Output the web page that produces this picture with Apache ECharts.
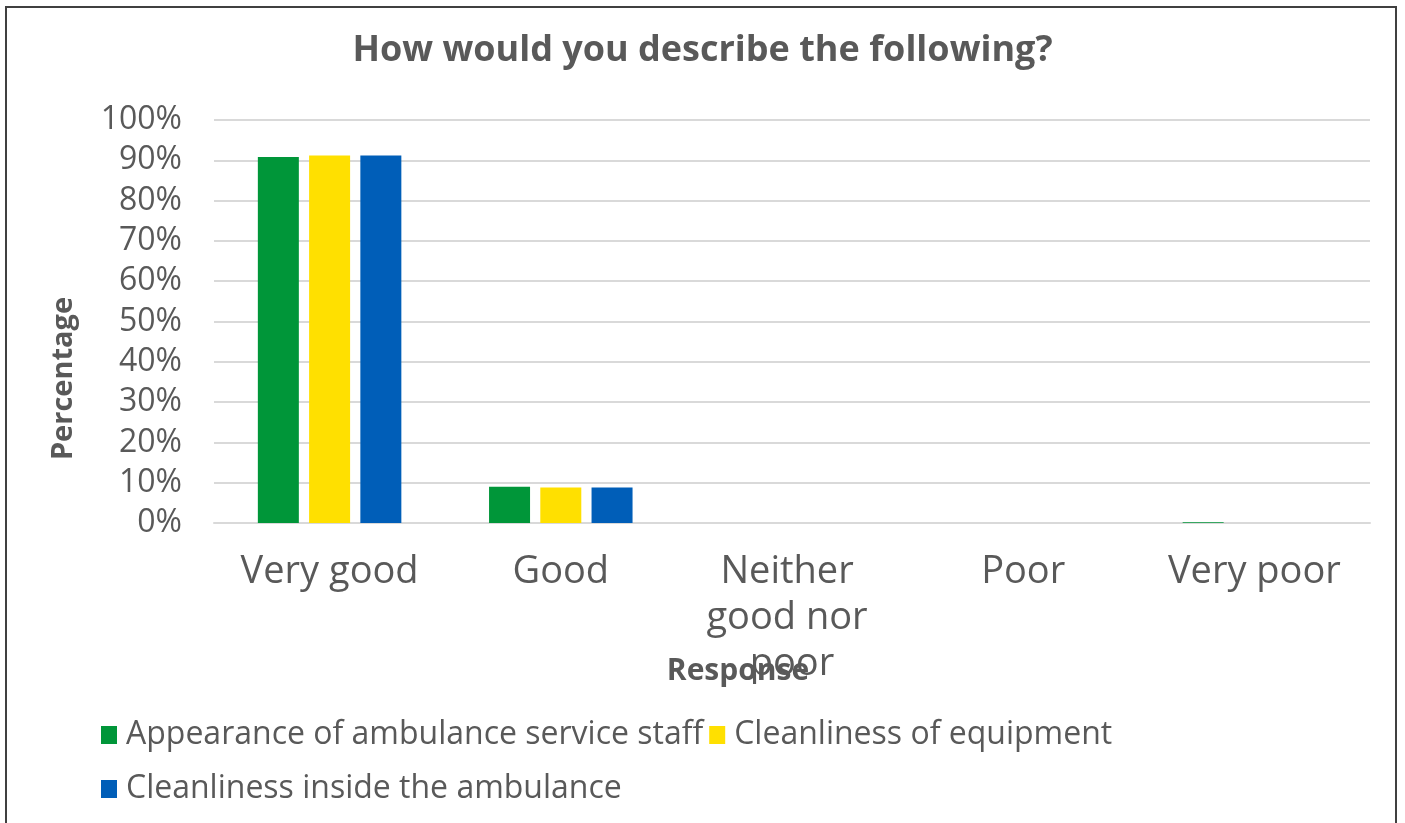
<!DOCTYPE html>
<html>
<head>
<meta charset="utf-8">
<script src="https://cdn.jsdelivr.net/npm/echarts@6/dist/echarts.min.js"></script>
<style>
html,body{margin:0;padding:0;background:#fff;}
#frame{position:absolute;left:5px;top:6px;width:1392px;height:840px;border:2px solid #404040;border-bottom:none;box-sizing:border-box;}
#chart{position:absolute;left:0;top:0;width:1405px;height:823px;}
</style>
</head>
<body>
<div id="frame"></div>
<div id="chart"></div>
<script>
var titleText = 'How would you describe the following?';
var categories = ['Very good', 'Good', 'Neither good nor poor', 'Poor', 'Very poor'];
var seriesNames = ['Appearance of ambulance service staff', 'Cleanliness of equipment', 'Cleanliness inside the ambulance'];
var appearanceStaff = [90.8, 9.0, 0, 0, 0.2];
var cleanEquipment = [91.2, 8.8, 0, 0, 0];
var cleanInside = [91.2, 8.8, 0, 0, 0];
var yTicks = [0, 10, 20, 30, 40, 50, 60, 70, 80, 90, 100];
var colors = ['#009639', '#FFE000', '#005EB8'];
var values = [appearanceStaff, cleanEquipment, cleanInside];

var txt = '#595959';
var font = 'Open Sans';
var chart = echarts.init(document.getElementById('chart'));
chart.setOption({
  backgroundColor: 'transparent',
  title: {
    text: titleText, left: 'center', top: 28,
    textStyle: {fontFamily: font, fontSize: 36, fontWeight: 'bold', color: txt}
  },
  legend: [{
    data: [seriesNames[0], seriesNames[1]], left: 96, top: 714, orient: 'horizontal',
    itemWidth: 16, itemHeight: 18, itemGap: 6, icon: 'rect',
    textStyle: {fontFamily: font, fontSize: 32, color: txt, padding: [0,0,0,4]}
  }, {
    data: [seriesNames[2]], left: 96, top: 768,
    itemWidth: 16, itemHeight: 18, itemGap: 6, icon: 'rect',
    textStyle: {fontFamily: font, fontSize: 32, color: txt, padding: [0,0,0,4]}
  }],
  grid: {left: 214, right: 35, top: 120, bottom: 300, containLabel: false},
  xAxis: {
    type: 'category', data: categories,
    name: 'Response', nameLocation: 'middle', nameGap: 133, nameMoveOverlap: false,
    nameTextStyle: {fontFamily: font, fontSize: 30, fontWeight: 'bold', color: txt, padding: [0,108,0,0]},
    axisLine: {show: true, lineStyle: {color: '#d9d9d9', width: 2}},
    axisTick: {show: false},
    axisLabel: {interval: 0, fontFamily: font, fontSize: 38, color: txt, margin: 26, width: 205, overflow: 'break', lineHeight: 46}
  },
  yAxis: {
    type: 'value', min: 0, max: 100, interval: 10,
    name: 'Percentage', nameLocation: 'middle', nameGap: 136, nameRotate: 90, nameMoveOverlap: false,
    nameTextStyle: {fontFamily: font, fontSize: 29, fontWeight: 'bold', color: txt, padding: [0,114,0,0]},
    axisLine: {show: false}, axisTick: {show: false},
    splitLine: {lineStyle: {color: '#d9d9d9', width: 2}},
    axisLabel: {
      fontFamily: font, fontSize: 32, color: txt, margin: 32,
      formatter: function (v) { return yTicks.indexOf(v) >= 0 ? v + '%' : ''; }
    }
  },
  series: seriesNames.map(function (n, i) {
    return {
      name: n, type: 'bar', data: values[i], barWidth: 41, barGap: '25%',
      itemStyle: {color: colors[i]}, animation: false
    };
  })
});
</script>
</body>
</html>
